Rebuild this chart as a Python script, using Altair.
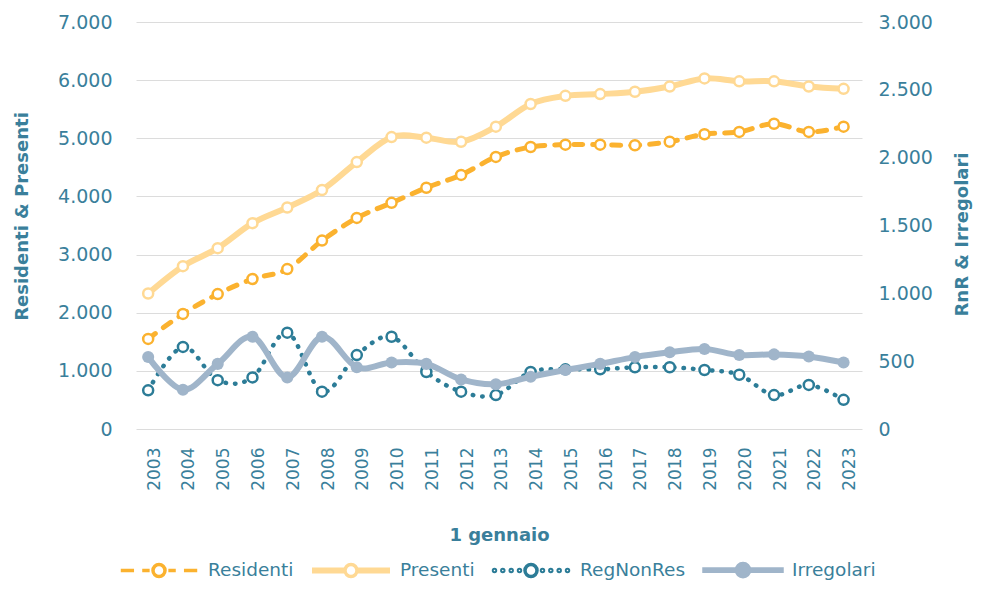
import altair as alt
import pandas as pd

years = list(range(2003, 2024))
residenti = [1550, 1980, 2320, 2580, 2750, 3240, 3630, 3890, 4150, 4370, 4680,
             4850, 4890, 4890, 4880, 4940, 5070, 5110, 5250, 5110, 5200]
presenti = [2330, 2800, 3110, 3540, 3810, 4110, 4590, 5020, 5010, 4940, 5200,
            5590, 5730, 5760, 5800, 5890, 6030, 5980, 5980, 5890, 5850]
regnonres = [285, 605, 360, 380, 710, 275, 545, 680, 420, 275, 250,
             420, 440, 440, 455, 455, 435, 400, 250, 325, 215]
irregolari = [530, 290, 480, 680, 380, 680, 455, 490, 480, 365, 330,
              385, 435, 480, 530, 565, 590, 545, 550, 535, 490]

names = ["Residenti", "Presenti", "RegNonRes", "Irregolari"]

C_RES = "#FBB22F"
C_PRES = "#FFD994"
C_RNR = "#2C7C97"
C_IRR = "#A0B5CA"
TEXT = "#3A7F9B"
GRID = "#DCDCDC"
FONT = "DejaVu Sans"

rows = []
for nm, vals in zip(names, [residenti, presenti, regnonres, irregolari]):
    for y, v in zip(years, vals):
        rows.append({"year": y, "series": nm, "value": v})
df = pd.DataFrame(rows)

x_enc = alt.X(
    "year:Q",
    scale=alt.Scale(domain=[2002.65, 2023.53], nice=False, zero=False),
    axis=alt.Axis(values=years, format="d", labelAngle=270, title="1 gennaio",
                  grid=False, ticks=False, domain=False, labelPadding=18,
                  labelOffset=6, labelFlush=False, labelOverlap=False,
                  labelBound=False, titlePadding=36, labelFontSize=17),
)

fmt = "replace(format(datum.value, ','), ',', '.')"

y_left = alt.Y(
    "value:Q",
    scale=alt.Scale(domain=[0, 7000], nice=False, zero=True),
    axis=alt.Axis(values=list(range(0, 7001, 1000)), labelExpr=fmt,
                  title="Residenti & Presenti", grid=True, gridColor=GRID,
                  gridWidth=1, domain=False, ticks=False, labelPadding=24,
                  titlePadding=26, orient="left", titleY=194),
)
y_right = alt.Y(
    "value:Q",
    scale=alt.Scale(domain=[0, 3000], nice=False, zero=True),
    axis=alt.Axis(values=list(range(0, 3001, 500)), labelExpr=fmt,
                  title="RnR & Irregolari", grid=False, domain=False,
                  ticks=False, labelPadding=16, titlePadding=21,
                  orient="right", titleAngle=270, titleBaseline="top",
                  titleY=212),
)


def series_chart(name):
    return alt.Chart(df).transform_filter(alt.datum.series == name)


PT = 100
res_line = series_chart("Residenti").mark_line(
    interpolate="cardinal", color=C_RES, strokeWidth=5, strokeDash=[9, 10],
    strokeCap="round").encode(x=x_enc, y=y_left)
res_pts = series_chart("Residenti").mark_point(
    shape="circle", filled=True, fill="white", stroke=C_RES, strokeWidth=2.5,
    size=PT, opacity=1).encode(x=x_enc, y=y_left)
pres_line = series_chart("Presenti").mark_line(
    interpolate="cardinal", color=C_PRES, strokeWidth=6).encode(x=x_enc, y=y_left)
pres_pts = series_chart("Presenti").mark_point(
    shape="circle", filled=True, fill="white", stroke=C_PRES, strokeWidth=2.5,
    size=PT, opacity=1).encode(x=x_enc, y=y_left)

rnr_line = series_chart("RegNonRes").mark_line(
    interpolate="cardinal", color=C_RNR, strokeWidth=4.5, strokeDash=[0.5, 9],
    strokeCap="round").encode(x=x_enc, y=y_right)
rnr_pts = series_chart("RegNonRes").mark_point(
    shape="circle", filled=True, fill="white", stroke=C_RNR, strokeWidth=2.5,
    size=PT, opacity=1).encode(x=x_enc, y=y_right)
irr_line = series_chart("Irregolari").mark_line(
    interpolate="cardinal", color=C_IRR, strokeWidth=6).encode(x=x_enc, y=y_right)
irr_pts = series_chart("Irregolari").mark_point(
    shape="circle", filled=True, color=C_IRR, size=145, opacity=1
).encode(x=x_enc, y=y_right)


def circ(cx, r):
    return f"M{cx - r},0A{r},{r} 0 1,1 {cx + r},0A{r},{r} 0 1,1 {cx - r},0Z"


R = 0.154
p_res = ("M-0.98,0H-0.64M-0.43,0H-0.24" + circ(0, R) +
         "M0.24,0H0.43M0.64,0H0.98")
p_pres = ("M-1,-0.03H-0.17M-1,0.03H-0.17" + circ(0, R) +
          "M0.17,-0.03H1M0.17,0.03H1")
p_rnr = "".join(circ(c, 0.025) for c in [-0.936, -0.723, -0.508, -0.295]) + \
    circ(0, R) + "".join(circ(c, 0.025) for c in [0.295, 0.508, 0.723, 0.936])
p_irr = "M-1,-0.03H1V0.03H-1Z" + circ(0, 0.17)

leg = alt.Legend(title=None, orient="none", legendX=-18, legendY=507,
                 direction="horizontal", symbolSize=6084, labelOffset=8,
                 columnPadding=11, padding=0, symbolStrokeWidth=3.5,
                 symbolOpacity=1, labelFont=FONT, labelFontSize=18.5,
                 labelColor=TEXT)

legend_layer = alt.Chart(df).transform_filter("false").mark_point(
    opacity=1).encode(
    stroke=alt.Stroke("series:N", scale=alt.Scale(domain=names,
                      range=[C_RES, C_PRES, C_RNR, C_IRR]), legend=leg),
    fill=alt.Fill("series:N", scale=alt.Scale(domain=names,
                  range=["white", "white", "white", C_IRR]), legend=leg),
    shape=alt.Shape("series:N", scale=alt.Scale(domain=names,
                    range=[p_res, p_pres, p_rnr, p_irr]), legend=leg),
)

left = alt.layer(res_line, res_pts, pres_line, pres_pts)
right = alt.layer(rnr_line, rnr_pts, irr_line, irr_pts)

chart = alt.layer(left, right, legend_layer).resolve_scale(
    y="independent"
).properties(
    width=726, height=407,
    autosize=alt.AutoSizeParams(type="none"),
    padding={"left": 128, "top": 14, "right": 112, "bottom": 156},
).configure_axis(
    labelFont=FONT, titleFont=FONT, labelColor=TEXT, titleColor=TEXT,
    labelFontSize=19, titleFontSize=18, titleFontWeight="bold",
).configure_view(stroke=None)

chart.save("out.html", embed_options={"renderer": "svg", "actions": False})
